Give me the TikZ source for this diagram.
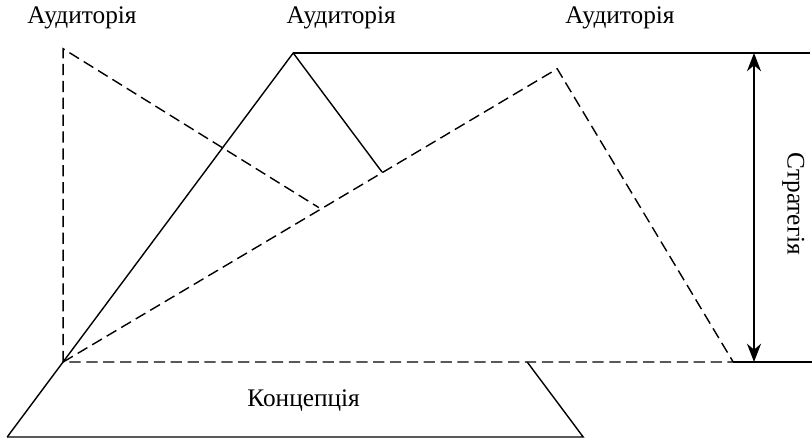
\documentclass[tikz,border=0pt]{standalone}
\usepackage{fontspec}
\setmainfont{Liberation Serif}
\usetikzlibrary{arrows.meta}

\begin{document}
\begin{tikzpicture}[line width=1pt, dsh/.style={dash pattern=on 8pt off 4pt}, lbl/.style={font=\fontsize{18}{21}\selectfont}]
\useasboundingbox (0,0) rectangle (20.3,11);
\coordinate (O) at (1.58,1.95);\coordinate (dA) at (1.58,9.78);\coordinate (dP) at (7.97,5.81);
\coordinate (S) at (7.33,9.675);\coordinate (F) at (9.55,6.7);\coordinate (A) at (13.93,9.28);\coordinate (B) at (18.33,1.95);
\coordinate (BL) at (0.18,0.075);\coordinate (BR) at (14.58,0.075);\coordinate (TR) at (13.18,1.95);
\coordinate (topR) at (20.25,9.675);\coordinate (botR) at (20.3,1.95);
\coordinate (aT) at (18.85,9.675);\coordinate (aB) at (18.85,1.95);
\draw[dsh] (O) -- (dA) -- (dP);\draw[dsh] (O) -- (A) -- (B) -- (O);
\draw (BL) -- (S) -- (F);\draw (S) -- (topR);\draw (B) -- (botR);
\draw (BL) -- (BR) -- (TR);
\draw[{Stealth[length=13pt,width=10pt]}-{Stealth[length=13pt,width=10pt]}] (aB) -- (aT);
\node[lbl, anchor=base] (aud1) at (2.05,10.4) {Аудиторія};\node[lbl, anchor=base] (aud2) at (8.53,10.4) {Аудиторія};\node[lbl, anchor=base] (aud3) at (15.5,10.4) {Аудиторія};
\node[lbl, anchor=base] (conc) at (7.59,0.85) {Концепція};
\node[lbl, rotate=-90] (strat) at (19.83,5.9) {Стратегія};
\end{tikzpicture}
\end{document}
